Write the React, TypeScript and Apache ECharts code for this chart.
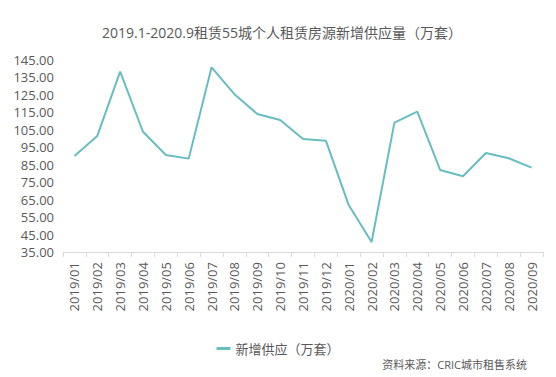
import React, { useEffect, useRef } from "react";
import * as echarts from "echarts";

const months = [
  "2019/01", "2019/02", "2019/03", "2019/04", "2019/05", "2019/06", "2019/07",
  "2019/08", "2019/09", "2019/10", "2019/11", "2019/12", "2020/01", "2020/02",
  "2020/03", "2020/04", "2020/05", "2020/06", "2020/07", "2020/08", "2020/09",
];
const supply = [
  90.0, 101.5, 138.3, 103.9, 90.6, 88.5, 140.8, 125.4, 114.1, 110.6, 99.7,
  98.8, 61.9, 40.7, 109.1, 115.4, 82.0, 78.4, 91.7, 88.7, 83.3,
];
const seriesName = "新增供应（万套）";
const titleText = "2019.1-2020.9租赁55城个人租赁房源新增供应量（万套）";
const sourceText = "资料来源：CRIC城市租售系统";
const yMin = 35;
const yMax = 145;
const yStep = 10;

const FONT = "'Open Sans', 'Noto Sans CJK SC', sans-serif";
const GRAY = "#595959";
const LINE = "#68bdc1";

export default function App() {
  const ref = useRef<HTMLDivElement>(null);
  useEffect(() => {
    if (!ref.current) return;
    const chart = echarts.init(ref.current, undefined, { renderer: "svg" });
    chart.setOption({
      animation: false,
      backgroundColor: "#fff",
      textStyle: { fontFamily: FONT },
      title: [
        {
          text: titleText,
          left: 97,
          top: 20,
          textStyle: { fontSize: 14, fontWeight: "normal", color: GRAY, fontFamily: FONT },
        },
        {
          text: sourceText,
          right: 24,
          top: 354,
          textStyle: { fontSize: 11, fontWeight: "normal", color: GRAY, fontFamily: FONT },
        },
      ],
      legend: {
        data: [{ name: seriesName, icon: "rect" }],
        left: "center",
        top: 337,
        itemWidth: 14,
        itemHeight: 3,
        itemGap: 10,
        textStyle: { fontSize: 13, color: GRAY, fontFamily: FONT },
      },
      grid: { left: 63, right: 13, top: 60, bottom: 125, containLabel: false },
      xAxis: {
        type: "category",
        data: months,
        boundaryGap: true,
        axisLine: { show: true, lineStyle: { color: "#d9d9d9" } },
        axisTick: { show: true, alignWithLabel: false, lineStyle: { color: "#d9d9d9" } },
        axisLabel: { rotate: 90, interval: 0, fontSize: 13, color: GRAY, margin: 10, fontFamily: FONT },
        splitLine: { show: false },
      },
      yAxis: {
        type: "value",
        min: yMin,
        max: yMax,
        interval: yStep,
        axisLine: { show: false },
        axisTick: { show: false },
        splitLine: { show: false },
        axisLabel: {
          fontSize: 13,
          color: GRAY,
          margin: 9,
          fontFamily: FONT,
          formatter: (v: number) => v.toFixed(2),
        },
      },
      series: [
        {
          name: seriesName,
          type: "line",
          data: supply,
          symbol: "none",
          lineStyle: { color: LINE, width: 2 },
          itemStyle: { color: LINE },
        },
      ],
    });
    return () => chart.dispose();
  }, []);
  return <div ref={ref} style={{ width: 556, height: 377, position: "absolute", left: 0, top: 0 }} />;
}
